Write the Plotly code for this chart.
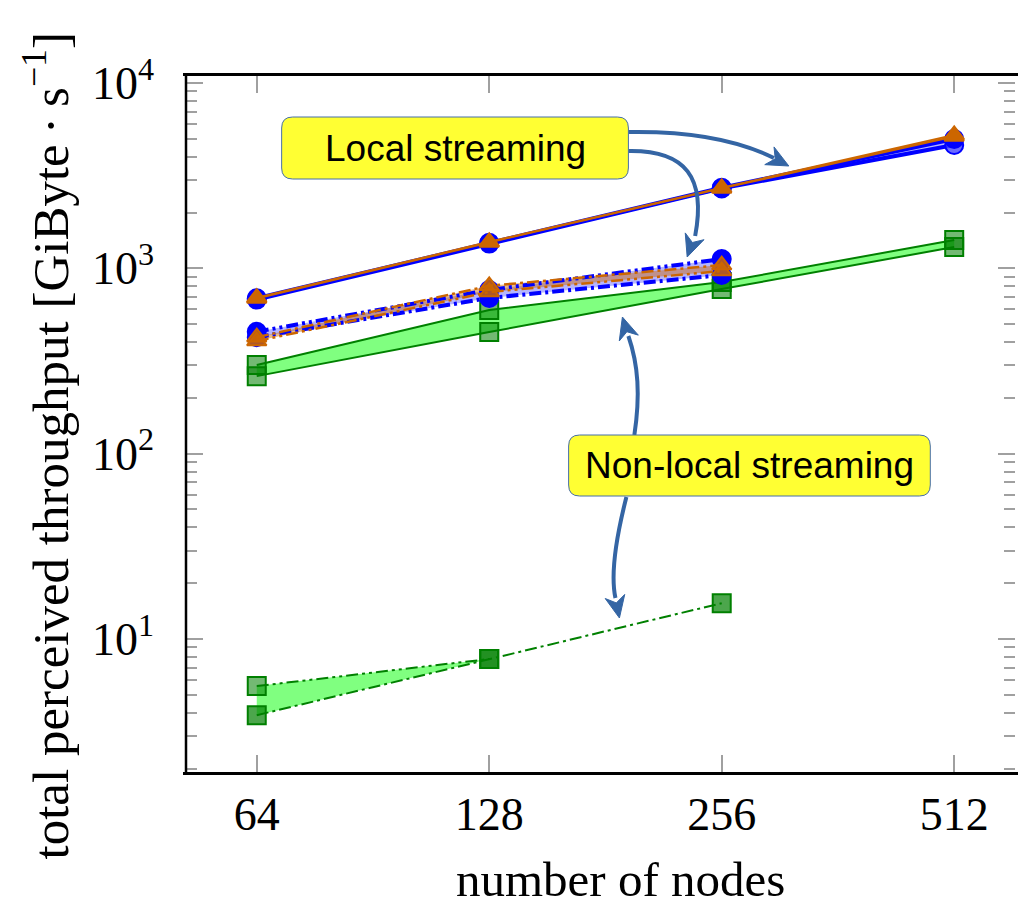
import math
import plotly.graph_objects as go

# ---- data -------------------------------------------------------------
nodes = [64, 128, 256, 512]
nodes_short = [64, 128, 256]

# local streaming, solid (pairs: upper / lower bound)
blue_solid_hi = [690, 1375, 2720, 4990]
blue_solid_lo = [678, 1360, 2700, 4630]
orange_solid_hi = [695, 1390, 2720, 5250]
orange_solid_lo = [688, 1380, 2700, 5150]

# local streaming, dash-dotted
blue_dd_hi = [455, 764, 1122]
blue_dd_lo = [425, 692, 920]
orange_dd_hi = [425, 805, 1042]
orange_dd_lo = [405, 745, 967]

# non-local streaming
green_hi = [301, 596, 843, 1422]
green_lo = [262, 453, 773, 1303]
green_nl_hi_nodes = [64, 128]
green_nl_hi = [5.57, 7.8]
green_nl_lo = [3.88, 7.8, 15.6]

x_ticks = [64, 128, 256, 512]
x_ticktext = ["64", "128", "256", "512"]
y_ticks = [10, 100, 1000, 10000]
y_ticktext = ["10<sup>1</sup>", "10<sup>2</sup>", "10<sup>3</sup>", "10<sup>4</sup>"]
y_minor = [m * 10 ** k for k in range(0, 5) for m in range(2, 10)]

BLUE = "rgb(0,0,255)"
ORANGE = "rgb(204,102,0)"
GREEN = "rgb(0,128,0)"
ARROW = "rgb(52,101,164)"

# ---- figure geometry ------------------------------------------------------
W, H = 1018, 906
L, R, T, B = 186, 0, 76, 134
PW, PH = W - L - R, H - T - B


def px(x):
    return (x - L) / PW


def py(y):
    return (H - B - y) / PH


fig = go.Figure()


def band(xs, lo, hi, color):
    fig.add_trace(go.Scatter(x=xs, y=lo, mode="lines", line=dict(width=0),
                             hoverinfo="skip", showlegend=False))
    fig.add_trace(go.Scatter(x=xs, y=hi, mode="lines", line=dict(width=0),
                             fill="tonexty", fillcolor=color,
                             hoverinfo="skip", showlegend=False))


def series(xs, ys, color, width, dash, symbol, mfill, mline, size):
    fig.add_trace(go.Scatter(
        x=xs, y=ys, mode="lines+markers",
        line=dict(color=color, width=width, dash=dash),
        marker=dict(symbol=symbol, size=size, color=mfill,
                    line=dict(color=mline, width=2)),
        showlegend=False))


DASHDOT = "12px,4px,3px,4px"
DASHDOTDOT = "12px,4px,3px,4px,3px,4px"

# non-local (green) bands and lines
band(nodes, green_lo, green_hi, "rgb(128,255,128)")
band(green_nl_hi_nodes, green_nl_lo[:2], green_nl_hi, "rgb(128,255,128)")
series(nodes, green_hi, GREEN, 2, "solid", "square", "rgba(0,128,0,0.55)", GREEN, 18)
series(nodes, green_lo, GREEN, 2, "solid", "square", "rgba(0,128,0,0.55)", GREEN, 18)
series(green_nl_hi_nodes, green_nl_hi, GREEN, 2, DASHDOTDOT, "square",
       "rgba(0,128,0,0.55)", GREEN, 18)
series(nodes_short, green_nl_lo, GREEN, 2, DASHDOT, "square",
       "rgba(0,128,0,0.7)", GREEN, 18)

# local, dash-dotted
band(nodes_short, blue_dd_lo, blue_dd_hi, "rgba(90,90,255,0.45)")
band(nodes_short, orange_dd_lo, orange_dd_hi, "rgba(204,102,0,0.45)")
series(nodes_short, blue_dd_hi, BLUE, 4, DASHDOTDOT, "circle", BLUE, BLUE, 18)
series(nodes_short, blue_dd_lo, BLUE, 4, DASHDOT, "circle", BLUE, BLUE, 18)
series(nodes_short, orange_dd_hi, ORANGE, 2.5, DASHDOT, "triangle-up",
       "rgba(204,102,0,0.85)", ORANGE, 17)
series(nodes_short, orange_dd_lo, ORANGE, 2.5, DASHDOTDOT, "triangle-up",
       "rgba(204,102,0,0.85)", ORANGE, 17)

# local, solid
band(nodes, blue_solid_lo, blue_solid_hi, "rgba(90,90,255,0.45)")
series(nodes, blue_solid_lo, BLUE, 4, "solid", "circle", "rgba(70,70,255,0.8)", BLUE, 18)
series(nodes, blue_solid_hi, BLUE, 4, "solid", "circle", BLUE, BLUE, 18)
band(nodes, orange_solid_lo, orange_solid_hi, "rgba(204,102,0,0.45)")
series(nodes, orange_solid_lo, ORANGE, 2, "solid", "triangle-up", ORANGE, ORANGE, 17)
series(nodes, orange_solid_hi, ORANGE, 2, "solid", "triangle-up", ORANGE, ORANGE, 17)

# ---- shapes: frame, arrows, callout boxes --------------------------------
shapes = []
shapes.append(dict(type="line", xref="paper", yref="paper", x0=0, x1=0, y0=0, y1=1,
                   line=dict(color="black", width=2.5)))


def curve(pts):
    (x0, y0), (x1, y1), (x2, y2), (x3, y3) = pts
    path = (f"M {px(x0)},{py(y0)} C {px(x1)},{py(y1)} {px(x2)},{py(y2)} "
            f"{px(x3)},{py(y3)}")
    shapes.append(dict(type="path", xref="paper", yref="paper", path=path,
                       line=dict(color=ARROW, width=4)))


def head(tip, frm, length=22, half=10):
    tx, ty = tip
    dx, dy = tx - frm[0], ty - frm[1]
    n = math.hypot(dx, dy)
    ux, uy = dx / n, dy / n
    bx, by = tx - ux * length, ty - uy * length
    p1 = (bx - uy * half, by + ux * half)
    p2 = (bx + uy * half, by - ux * half)
    notch = (tx - ux * length * 0.7, ty - uy * length * 0.7)
    path = (f"M {px(tx)},{py(ty)} L {px(p1[0])},{py(p1[1])} "
            f"L {px(notch[0])},{py(notch[1])} L {px(p2[0])},{py(p2[1])} Z")
    shapes.append(dict(type="path", xref="paper", yref="paper", path=path,
                       fillcolor=ARROW, line=dict(color=ARROW, width=1)))


# "Local streaming" arrows
curve([(630, 132), (690, 131), (740, 140), (776, 158)])
head((791, 166), (770, 155))
curve([(630, 151), (688, 150), (708, 178), (697, 236)])
head((689, 257), (698, 232))
# "Non-local streaming" arrows
curve([(636, 435), (642, 395), (640, 365), (630, 336)])
head((624, 317), (631, 340))
curve([(628, 497), (617, 540), (612, 575), (617, 598)])
head((621, 618), (616, 594))


def rounded_box(x0, y0, x1, y1, r=11):
    rx, ry = r, r
    p = [f"M {px(x0 + rx)},{py(y0)}",
         f"L {px(x1 - rx)},{py(y0)}",
         f"Q {px(x1)},{py(y0)} {px(x1)},{py(y0 + ry)}",
         f"L {px(x1)},{py(y1 - ry)}",
         f"Q {px(x1)},{py(y1)} {px(x1 - rx)},{py(y1)}",
         f"L {px(x0 + rx)},{py(y1)}",
         f"Q {px(x0)},{py(y1)} {px(x0)},{py(y1 - ry)}",
         f"L {px(x0)},{py(y0 + ry)}",
         f"Q {px(x0)},{py(y0)} {px(x0 + rx)},{py(y0)} Z"]
    shapes.append(dict(type="path", xref="paper", yref="paper", path=" ".join(p),
                       fillcolor="rgb(255,255,51)",
                       line=dict(color="rgb(70,110,170)", width=1)))


rounded_box(282, 117, 630, 179)
rounded_box(570, 435, 933, 496)

annotations = [
    dict(text="Local streaming", x=px(456), y=py(148), xref="paper", yref="paper",
         showarrow=False, xanchor="center", yanchor="middle",
         font=dict(family="Liberation Sans", size=37, color="black")),
    dict(text="Non-local streaming", x=px(752), y=py(466), xref="paper", yref="paper",
         showarrow=False, xanchor="center", yanchor="middle",
         font=dict(family="Liberation Sans", size=37, color="black")),
    dict(text="number of nodes", x=px(622), y=py(879), xref="paper", yref="paper",
         showarrow=False, xanchor="center", yanchor="middle",
         font=dict(family="Liberation Serif", size=49, color="black")),
    dict(text="total perceived throughput [GiByte\u2009\u00b7\u2009s<sup>\u22121</sup>]",
         x=px(46), y=py(446), xref="paper", yref="paper", textangle=-90,
         showarrow=False, xanchor="center", yanchor="middle",
         font=dict(family="Liberation Serif", size=51, color="black")),
]

fig.update_layout(
    width=W, height=H,
    margin=dict(l=L, r=R, t=T, b=B, pad=0),
    paper_bgcolor="white", plot_bgcolor="white",
    showlegend=False,
    shapes=shapes,
    annotations=annotations,
    font=dict(family="Liberation Serif", color="black"),
)

fig.update_xaxes(
    type="log",
    range=[math.log10(2 ** 5.6957), math.log10(2 ** 9.2615)],
    tickmode="array", tickvals=x_ticks, ticktext=x_ticktext,
    ticks="inside", ticklen=17, tickwidth=1.5, tickcolor="rgb(160,160,160)",
    showline=True, linecolor="black", linewidth=2.5, mirror="ticks",
    showgrid=False, zeroline=False,
    tickfont=dict(family="Liberation Serif", size=46, color="black"),
    ticklabelstandoff=0,
)

fig.update_yaxes(
    type="log",
    range=[0.2823, 4.0378],
    tickmode="array", tickvals=y_ticks, ticktext=y_ticktext,
    ticks="inside", ticklen=17, tickwidth=1.5, tickcolor="rgb(160,160,160)",
    minor=dict(tickmode="array", tickvals=y_minor, ticks="inside", ticklen=11,
               tickwidth=1.5, tickcolor="rgb(160,160,160)", showgrid=False),
    showline=True, linecolor="rgba(0,0,0,0)", linewidth=2.5, mirror="ticks",
    showgrid=False, zeroline=False,
    tickfont=dict(family="Liberation Serif", size=46, color="black"),
    ticklabelstandoff=20,
)

fig.write_html("out.html")
